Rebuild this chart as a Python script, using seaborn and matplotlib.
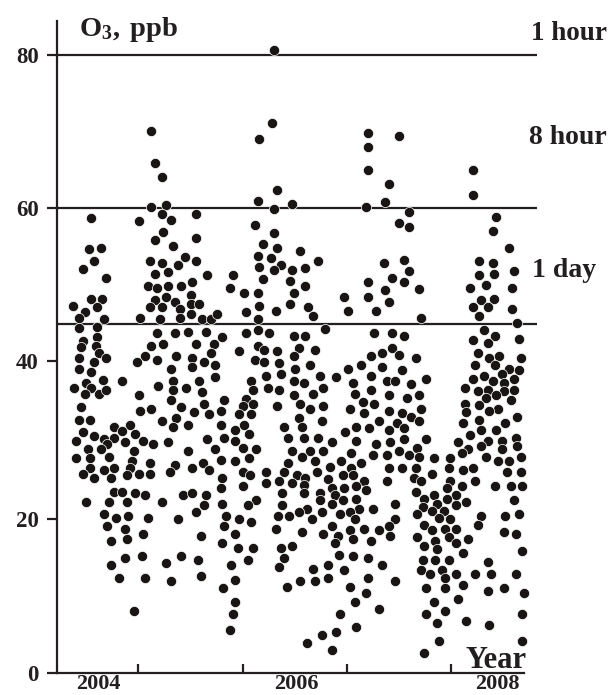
import matplotlib
matplotlib.use('Agg')
import matplotlib.pyplot as plt
import pandas as pd
import seaborn as sns

# O3 readings: (decimal year, ppb)
upper_2004 = [
(2005.12,70.25),(2005.16,66.0),(2005.23,64.2),(2005.12,60.4),(2005.26,60.6),(2004.55,58.9),(2005.01,58.5),
(2005.23,59.5),(2005.31,58.7),(2005.55,59.5),(2005.24,57.1),(2005.55,56.3),(2005.16,56.1),(2005.33,55.35),
(2004.53,54.9),(2004.64,55.1),(2004.57,53.3),(2004.47,52.3),(2004.69,51.2),(2005.11,53.3),(2005.23,53.1),
(2005.45,53.9),(2005.38,52.9),(2005.55,53.3),(2005.16,51.7),(2005.28,51.9),(2005.66,51.5),(2005.09,50.1),
(2005.18,49.9),(2005.28,50.1),(2005.41,50.1),(2005.51,50.6),(2005.50,49.0),(2005.16,48.3),(2005.26,48.7),
(2005.35,48.0),(2004.55,48.5),(2004.65,48.5),(2004.37,47.6),(2004.49,46.7),(2004.60,47.4),(2005.11,47.4),
(2005.23,47.4),(2005.40,47.1),(2005.50,47.8),(2005.58,47.8),(2004.43,46.0),(2004.67,45.8),(2005.02,46.0),
(2005.21,45.8),(2005.40,46.0),(2005.50,46.5),(2005.61,45.8),(2005.70,45.8),(2005.75,46.5),(2004.43,44.7),
(2004.60,44.8),(2005.18,44.0),(2005.35,44.0),(2005.48,44.2),(2005.65,44.2),(2005.80,43.5),(2004.60,43.5),
(2004.47,43.0),(2004.45,42.2),(2004.59,42.4),(2005.12,42.4),(2005.24,42.6),(2005.55,42.6),(2005.72,42.6),
(2004.62,41.5),(2005.70,41.5),(2004.43,40.8),(2004.69,40.8),(2005.06,41.0),(2004.99,40.3),(2005.18,40.5),
(2005.36,41.0),(2005.51,40.8),(2004.57,40.3),(2005.63,40.3),(2005.73,39.9),(2004.43,39.4),(2005.31,39.4),
(2005.51,39.6),(2004.55,39.0),(2004.66,38.0),(2004.50,37.6),(2004.84,37.8),(2005.33,37.8),(2005.58,37.8),
(2005.73,38.3),(2004.38,36.9),(2004.55,36.9),(2004.49,36.2),(2004.62,36.2),(2004.69,36.6),(2005.19,37.2),
(2005.33,36.6),(2005.46,36.9),(2005.61,36.4),(2005.01,36.0),(2005.31,35.3),(2005.63,34.9),(2005.82,35.3),
(2004.45,34.4),(2005.41,34.4),(2005.02,33.9),(2005.12,34.2),(2005.53,33.8),(2005.68,33.5),(2005.79,33.9),
(2004.43,32.8),(2004.54,32.8),(2005.36,33.0),(2005.23,32.6),(2005.33,31.9),(2005.48,32.1),(2005.79,32.1),
(2004.77,31.9),(2004.92,32.1),(2004.84,31.3),(2004.47,31.2),(2004.97,31.0),(2004.57,30.7),(2004.77,30.5),
(2004.67,30.3),(2004.40,30.1),(2005.04,30.1),(2004.87,29.9),(2004.70,29.6),(2005.14,29.6),(2005.28,29.9),
(2005.66,30.3),(2005.82,30.5),(2004.52,29.0),(2004.64,29.0),(2004.96,28.7),(2005.48,28.7),(2005.73,29.0),
(2004.72,28.0),
]
lower_2004 = [
(2004.40,27.8),(2004.54,27.8),(2004.94,27.5),(2005.11,27.2),(2005.35,26.9),(2005.62,27.2),(2005.79,27.6),
(2004.54,26.5),(2004.77,26.5),(2004.92,26.5),(2004.67,26.3),(2005.30,26.0),(2005.51,26.5),(2005.68,26.3),
(2004.47,25.8),(2004.57,25.3),(2004.74,25.3),(2004.89,25.6),(2005.01,25.8),(2005.11,25.8),(2005.80,25.3),
(2005.79,24.0),(2004.77,23.5),(2004.84,23.5),(2004.97,23.3),(2005.06,23.1),(2005.43,23.1),(2005.51,23.3),
(2005.65,23.1),(2004.50,22.2),(2004.72,22.2),(2004.89,22.2),(2005.23,22.2),(2005.80,21.9),(2005.63,21.7),
(2005.55,20.8),(2004.67,20.6),(2004.79,20.1),(2004.90,20.3),(2005.09,20.1),(2005.38,19.9),(2005.84,20.3),
(2004.70,19.0),(2004.87,18.7),(2005.82,19.0),(2005.04,18.0),(2005.60,17.8),(2004.74,17.1),(2004.89,17.4),
(2005.80,16.9),(2004.87,14.9),(2005.03,15.1),(2005.41,15.1),(2004.74,14.0),(2005.26,14.2),(2005.57,14.6),
(2004.81,12.3),(2005.06,12.3),(2005.31,11.9),(2005.60,12.6),(2004.96,8.0),
]
upper_2006 = [
(2006.30,80.7),(2006.28,71.2),(2006.16,69.2),(2007.20,70.0),(2007.20,68.1),(2007.50,69.5),(2007.20,65.1),
(2007.40,63.3),(2006.33,62.6),(2006.15,61.1),(2006.47,60.7),(2006.30,60.1),(2007.18,60.3),(2007.36,61.0),
(2007.59,59.7),(2006.12,58.0),(2007.50,58.3),(2007.59,57.8),
(2006.30,57.0),(2006.19,55.6),(2006.33,55.1),(2006.55,54.7),(2006.15,54.0),(2006.27,53.7),(2006.72,53.3),
(2006.37,52.8),(2006.16,52.6),(2006.30,52.2),(2006.47,52.2),(2006.60,52.4),(2005.91,51.5),(2006.19,51.0),
(2006.45,50.8),(2005.88,49.9),(2006.60,50.1),(2006.01,49.2),(2006.15,49.2),(2006.49,49.2),(2006.16,47.6),
(2006.45,47.8),(2006.03,46.7),(2006.32,46.9),(2006.63,47.4),(2006.67,46.2),(2006.15,45.8),(2006.15,44.4),
(2006.79,44.5),(2006.03,44.0),(2006.25,44.0),(2006.49,43.7),(2006.60,43.7),(2006.15,42.4),(2006.20,41.9),
(2006.54,42.1),(2006.69,41.9),(2005.96,41.7),(2006.33,41.7),(2006.49,41.0),(2006.12,40.6),(2006.20,40.3),
(2006.35,40.1),(2006.64,39.9),(2006.50,39.4),(2006.22,38.5),(2006.37,38.7),(2006.74,38.5),(2006.89,38.3),
(2006.49,37.8),(2006.59,37.6),(2006.08,37.8),(2006.10,36.6),(2006.24,36.9),(2006.35,36.6),(2006.77,36.9),
(2006.67,36.2),(2006.49,36.0),(2006.03,35.5),(2006.10,34.9),(2006.00,34.6),(2006.33,34.6),(2006.55,34.9),
(2006.77,34.6),(2006.64,34.2),(2005.96,33.5),(2006.08,33.5),(2006.54,33.0),(2006.76,32.6),(2006.01,32.1),
(2006.40,31.9),(2006.57,31.9),(2005.93,31.5),(2006.06,31.0),(2006.43,30.5),(2006.59,30.5),(2006.72,30.5),
(2005.93,30.1),(2006.86,29.9),(2006.00,29.2),(2006.13,29.0),(2006.47,28.7),(2006.64,28.7),(2006.77,28.7),
(2006.57,28.0),
(2007.35,53.1),(2007.55,53.5),(2007.59,52.1),(2007.43,51.2),(2007.20,50.6),(2007.55,50.6),(2007.36,49.6),
(2006.97,48.7),(2007.20,48.7),(2007.40,48.1),(2007.01,46.9),(2007.28,46.9),(2007.26,44.0),(2007.43,44.0),
(2007.55,43.7),(2007.43,42.1),(2007.33,41.5),(2007.50,41.2),(2007.23,41.0),(2007.13,39.9),(2007.33,39.6),
(2007.01,39.4),(2007.53,39.2),(2007.23,38.5),(2007.06,37.6),(2007.38,37.8),(2007.46,37.8),(2007.23,36.6),
(2007.08,36.2),(2007.40,36.0),(2007.57,35.6),(2007.15,35.1),(2007.26,34.9),(2007.03,34.2),(2007.16,33.7),
(2007.40,33.9),(2007.53,33.7),(2007.31,32.6),(2007.48,32.4),(2007.09,31.9),(2007.21,31.7),(2007.55,31.7),
(2006.98,31.2),(2007.40,31.5),(2007.09,30.1),(2007.41,29.9),(2007.28,29.6),(2007.55,30.3),(2007.04,28.5),
(2007.25,28.3),(2007.38,28.3),(2007.50,28.7),(2007.59,28.3),
]
lower_2006 = [
(2005.93,27.4),(2006.06,27.8),(2006.43,27.2),(2006.69,27.4),(2006.84,26.7),(2006.94,27.4),(2007.04,26.5),
(2007.13,27.2),(2007.40,26.5),(2007.53,26.5),(2006.00,26.0),(2006.22,26.0),(2006.40,26.0),(2006.71,26.0),
(2006.07,25.6),(2006.52,25.6),(2006.60,25.3),(2006.82,25.1),(2006.96,25.6),(2007.06,25.6),(2006.35,24.9),
(2007.16,24.9),(2007.38,24.9),(2006.22,24.6),(2006.47,24.6),(2006.59,24.4),(2006.00,24.2),(2006.97,24.0),
(2006.86,24.0),(2007.09,24.2),(2007.18,23.7),(2006.88,23.1),(2006.74,23.3),(2006.59,23.3),(2006.38,23.3),
(2006.13,22.4),(2006.74,22.4),(2006.96,22.4),(2007.09,22.6),(2006.05,21.7),(2006.38,21.7),(2006.86,21.9),
(2007.46,21.9),(2006.62,21.2),(2007.11,21.2),(2007.25,21.2),(2006.54,20.8),(2006.76,20.8),(2007.03,20.8),
(2006.34,20.3),(2006.44,20.3),(2006.93,20.6),(2006.66,19.9),(2005.96,19.9),(2006.08,19.6),(2007.08,19.9),
(2007.46,19.9),(2006.32,18.7),(2006.86,19.0),(2007.16,18.7),(2007.03,18.5),(2007.31,18.5),(2007.40,19.0),
(2005.93,18.0),(2006.57,18.3),(2006.77,18.0),(2006.91,17.8),(2007.41,17.8),(2007.06,17.4),(2007.23,17.1),
(2006.88,16.9),(2005.95,16.2),(2006.10,16.2),(2006.37,16.2),(2006.47,16.4),(2006.92,15.3),(2007.06,15.1),
(2006.40,14.9),(2007.20,14.9),(2006.05,14.6),(2005.89,14.0),(2006.82,14.0),(2007.33,14.0),(2006.35,13.7),
(2006.67,13.5),(2006.97,13.3),(2005.93,12.1),(2006.55,11.9),(2006.69,11.9),(2006.82,12.3),(2007.20,12.3),
(2007.46,11.9),(2006.42,11.2),(2007.03,11.2),(2005.81,11.0),(2007.18,10.3),(2005.93,9.2),(2007.08,9.2),
(2007.31,8.3),(2005.91,7.6),(2006.93,7.6),(2007.09,6.0),(2005.88,5.6),(2006.89,5.3),(2006.76,4.9),
(2006.62,3.9),(2006.86,3.0),
]
upper_2008 = [
(2008.21,65.1),(2008.21,61.9),(2008.43,59.1),(2008.40,57.2),(2008.55,55.1),(2008.26,53.3),(2008.40,53.1),
(2008.60,52.1),(2008.26,51.5),(2008.41,51.7),(2008.33,50.3),(2008.18,49.9),(2008.58,49.9),(2007.69,49.7),
(2008.28,48.3),(2008.41,48.5),(2008.21,47.4),(2008.35,47.4),(2008.58,47.1),(2008.26,46.2),(2007.71,46.0),
(2008.63,45.3),(2008.31,44.4),(2008.42,43.7),(2008.21,43.1),(2008.35,42.8),(2008.65,43.3),(2008.25,41.5),
(2008.36,40.8),(2008.46,41.0),(2008.67,40.8),(2007.66,40.8),(2008.23,39.9),(2008.42,39.9),(2008.55,39.4),
(2008.65,39.2),(2008.48,38.7),(2008.31,38.5),(2008.21,38.1),(2007.76,38.1),(2008.60,38.1),(2008.40,37.8),
(2008.50,37.6),(2007.61,37.4),(2008.13,36.9),(2008.35,36.7),(2008.60,36.7),(2008.25,36.5),(2008.50,36.5),
(2008.43,36.0),(2007.69,36.0),(2008.33,35.6),(2008.57,35.3),(2008.13,34.9),(2008.26,34.7),(2007.71,34.2),
(2008.45,34.2),(2008.14,33.8),(2008.36,34.0),(2008.63,33.1),(2007.61,33.1),(2008.26,32.8),(2007.69,32.6),
(2008.11,32.4),(2008.51,32.4),(2008.28,31.5),(2008.43,31.5),(2008.18,30.8),(2008.62,30.5),(2007.76,30.3),
(2008.06,29.9),(2008.35,30.1),(2008.48,30.1),(2008.28,29.4),(2008.63,29.4),(2007.67,29.2),(2008.16,29.0),
(2008.48,29.0),(2008.10,28.5),(2007.69,28.0),(2007.83,27.8),(2007.99,27.8),(2008.33,28.0),(2008.67,28.0),
]
lower_2008 = [
(2008.45,27.4),(2008.55,27.4),(2007.66,26.5),(2007.98,26.5),(2008.11,26.3),(2008.21,26.5),(2008.53,26.0),
(2008.67,26.0),(2007.81,25.8),(2007.64,25.3),(2007.71,24.9),(2007.99,24.9),(2008.23,24.9),(2008.10,24.2),
(2007.96,24.0),(2008.42,24.2),(2008.57,24.2),(2008.68,24.2),(2007.66,23.5),(2007.83,23.1),(2008.04,23.1),
(2007.74,22.6),(2007.96,22.6),(2008.60,22.4),(2008.14,22.2),(2007.86,21.9),(2008.04,21.7),(2007.73,21.5),
(2007.81,21.0),(2007.93,21.0),(2007.67,20.6),(2008.28,20.3),(2008.51,20.3),(2008.65,20.6),(2007.88,20.1),
(2007.99,19.9),(2008.25,19.2),(2007.74,19.2),(2007.81,18.5),(2007.94,18.7),(2008.04,18.7),(2008.50,18.3),
(2008.62,18.0),(2007.67,17.6),(2007.98,17.6),(2007.84,17.1),(2008.16,17.4),(2008.04,16.9),(2007.74,16.5),
(2007.86,16.0),(2008.11,15.5),(2008.68,15.8),(2007.73,14.6),(2007.84,14.6),(2007.98,14.6),(2008.35,14.4),
(2007.71,13.3),(2007.91,13.3),(2007.79,12.8),(2008.04,12.8),(2008.23,12.8),(2008.38,12.8),(2008.62,12.8),
(2007.94,12.3),(2008.11,11.4),(2007.76,11.0),(2007.94,11.0),(2008.50,11.0),(2008.35,10.6),(2008.70,10.3),
(2008.06,9.6),(2007.83,9.2),(2007.94,8.0),(2007.76,7.6),(2008.68,7.6),(2007.86,6.5),(2008.14,6.7),
(2008.36,6.2),(2008.68,4.2),(2007.88,4.2),(2007.74,2.6),
]

limit_levels = [80, 60.2, 45.2]
limit_labels = ['1 hour', '8 hour', '1 day']
year_ticks = [2005, 2006, 2007, 2008]
year_labels = ['2004', '2006', '2008']
year_label_pos = [2004.62, 2006.51, 2008.44]
y_ticks = [0, 20, 40.4, 60.2, 80]
y_labels = ['0', '20', '40', '60', '80']

df = pd.DataFrame(upper_2004 + lower_2004 + upper_2006 + lower_2006 + upper_2008 + lower_2008,
                  columns=['year', 'o3'])

sns.set_theme(style='white')
plt.rcParams['font.family'] = ['Liberation Serif', 'DejaVu Serif']
plt.rcParams['mathtext.fontset'] = 'custom'
plt.rcParams['mathtext.bf'] = 'Liberation Serif:bold'
plt.rcParams['mathtext.rm'] = 'Liberation Serif:bold'

ink = '#231f20'
fig = plt.figure(figsize=(6.1, 6.95), dpi=100)
ax = fig.add_axes([57/610, 22/695, 480/610, 652/695])

sns.scatterplot(data=df, x='year', y='o3', ax=ax, s=54, color='#191514', edgecolor='white',
                linewidth=0.5, clip_on=False, zorder=3)

for lev in limit_levels:
    ax.axhline(lev, color=ink, lw=1.6, zorder=2)

ax.set_xlim(2004.22, 2008.82)
ax.set_ylim(0, 84.45)
ax.set_xlabel('')
ax.set_ylabel('')
sns.despine(ax=ax)
ax.spines['left'].set_linewidth(1.6)
ax.spines['bottom'].set_linewidth(1.6)
ax.spines['left'].set_color(ink)
ax.spines['bottom'].set_color(ink)
ax.spines['bottom'].set_bounds(2004.22, 2008.70)

ax.set_yticks(y_ticks)
ax.set_yticklabels(y_labels, fontsize=16.5, fontweight='bold', color=ink)
ax.tick_params(axis='y', length=7, width=1.6, color=ink, pad=6, left=True)

ax.set_xticks(year_ticks)
ax.set_xticklabels([])
ax.tick_params(axis='x', which='major', direction='in', length=6.5, width=1.6, color=ink, bottom=True)
ax.set_xticks(year_label_pos, minor=True)
ax.set_xticklabels(year_labels, minor=True, fontsize=16, fontweight='bold', color=ink)
ax.tick_params(axis='x', which='minor', length=0, pad=1)

fig.text(79/610, 1 - 29/695, r'$\mathbf{O_3,\!\ ppb}$', fontsize=20.5, color=ink, va='center', ha='left')
fig.text(607/610, 1 - 33/695, limit_labels[0], fontsize=19.5, fontweight='bold', color=ink, va='center', ha='right')
fig.text(607/610, 1 - 138/695, limit_labels[1], fontsize=20, fontweight='bold', color=ink, va='center', ha='right')
fig.text(596/610, 1 - 271/695, limit_labels[2], fontsize=20, fontweight='bold', color=ink, va='center', ha='right')
fig.text(527/610, 1 - 660/695, 'Year', fontsize=22, fontweight='bold', color=ink, va='center', ha='right')

fig.savefig('out.png', dpi=100)
